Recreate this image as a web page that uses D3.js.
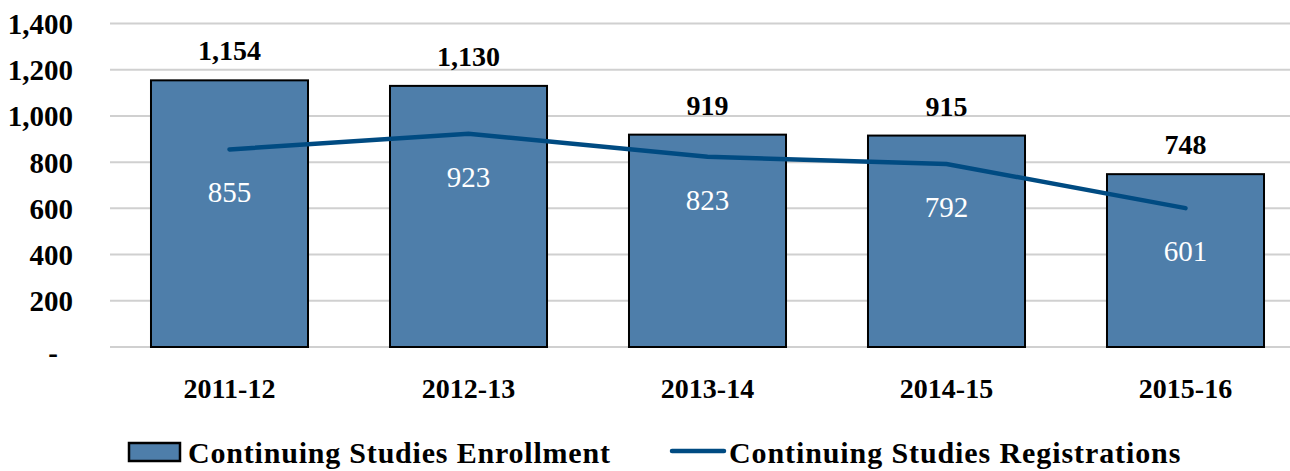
<!DOCTYPE html>
<html>
<head>
<meta charset="utf-8">
<script src="https://cdn.jsdelivr.net/npm/d3@7"></script>
<style>
  body { margin: 0; background: #fff; }
  svg text { font-family: "Liberation Serif", "DejaVu Serif", "Times New Roman", serif !important; }
</style>
</head>
<body>
<div id="chart"></div>
<script>
// Chart data
var years = ["2011-12", "2012-13", "2013-14", "2014-15", "2015-16"];
var enrollment = [1154, 1130, 919, 915, 748];
var registrations = [855, 923, 823, 792, 601];
var yTicks = [0, 200, 400, 600, 800, 1000, 1200, 1400];

var svgWidth = 1290;
var svgHeight = 471;

var svg = d3.select("#chart")
  .append("svg")
  .attr("width", svgWidth)
  .attr("height", svgHeight);

// Scales
var x = d3.scaleBand()
  .domain(years)
  .range([110, 1305])
  .paddingInner(0.343)
  .paddingOuter(0.1715);

var y = d3.scaleLinear()
  .domain([0, 1400])
  .range([347, 23.5]);

var fmt = d3.format(",");

// Gridlines
svg.append("g")
  .selectAll("line")
  .data(yTicks)
  .enter()
  .append("line")
  .attr("x1", 110)
  .attr("x2", 1290)
  .attr("y1", d => y(d))
  .attr("y2", d => y(d))
  .attr("stroke", "#d0d0d0")
  .attr("stroke-width", 2);

// Y axis labels
var leftAxis = d3.axisLeft(y)
  .tickValues(yTicks)
  .tickSize(0)
  .tickPadding(0)
  .tickFormat(d => d === 0 ? "-" : fmt(d));

var yAxisG = svg.append("g")
  .attr("transform", "translate(73,0)")
  .call(leftAxis);
yAxisG.attr("font-family", null);
yAxisG.select(".domain").remove();
yAxisG.selectAll("text")
  .attr("font-size", 29)
  .attr("font-weight", "bold")
  .attr("fill", "#000")
  .attr("dy", d => d === 0 ? "0.55em" : "0.34em")
  .attr("text-anchor", d => d === 0 ? "middle" : "end")
  .attr("x", d => d === 0 ? -20 : 0);

// Bars
svg.append("g")
  .selectAll("rect")
  .data(enrollment)
  .enter()
  .append("rect")
  .attr("x", (d, i) => x(years[i]))
  .attr("y", d => y(d))
  .attr("width", x.bandwidth())
  .attr("height", d => y(0) - y(d))
  .attr("fill", "#4e7eaa")
  .attr("stroke", "#000")
  .attr("stroke-width", 2);

// Bar value labels
svg.append("g")
  .selectAll("text")
  .data(enrollment)
  .enter()
  .append("text")
  .attr("x", (d, i) => x(years[i]) + x.bandwidth() / 2)
  .attr("y", d => y(d) - 20)
  .attr("text-anchor", "middle")
  .attr("font-size", 28)
  .attr("font-weight", "bold")
  .attr("fill", "#000")
  .text(d => fmt(d));

// Registration line
var line = d3.line()
  .x((d, i) => x(years[i]) + x.bandwidth() / 2)
  .y(d => y(d));

svg.append("path")
  .datum(registrations)
  .attr("d", line)
  .attr("fill", "none")
  .attr("stroke", "#004b82")
  .attr("stroke-width", 4.5)
  .attr("stroke-linecap", "round");

// Line value labels
svg.append("g")
  .selectAll("text")
  .data(registrations)
  .enter()
  .append("text")
  .attr("x", (d, i) => x(years[i]) + x.bandwidth() / 2)
  .attr("y", d => y(d) + 53)
  .attr("text-anchor", "middle")
  .attr("font-size", 29)
  .attr("fill", "#fff")
  .text(d => d);

// X axis labels
var bottomAxis = d3.axisBottom(x).tickSize(0).tickPadding(0);
var xAxisG = svg.append("g")
  .attr("transform", "translate(0,378)")
  .call(bottomAxis);
xAxisG.attr("font-family", null);
xAxisG.select(".domain").remove();
xAxisG.selectAll("text")
  .attr("font-size", 28)
  .attr("font-weight", "bold")
  .attr("fill", "#000");

// Legend
var legend = svg.append("g");
legend.append("rect")
  .attr("x", 129)
  .attr("y", 443)
  .attr("width", 51)
  .attr("height", 18)
  .attr("fill", "#4e7eaa")
  .attr("stroke", "#000")
  .attr("stroke-width", 2.5);
legend.append("text")
  .attr("x", 188)
  .attr("y", 463)
  .attr("font-size", 30)
  .attr("font-weight", "bold")
  .attr("letter-spacing", 0.8)
  .text("Continuing Studies Enrollment");
legend.append("line")
  .attr("x1", 672)
  .attr("x2", 724)
  .attr("y1", 451)
  .attr("y2", 451)
  .attr("stroke", "#004b82")
  .attr("stroke-width", 4.5)
  .attr("stroke-linecap", "round");
legend.append("text")
  .attr("x", 729)
  .attr("y", 463)
  .attr("font-size", 30)
  .attr("font-weight", "bold")
  .attr("letter-spacing", 0.9)
  .text("Continuing Studies Registrations");
</script>
</body>
</html>
